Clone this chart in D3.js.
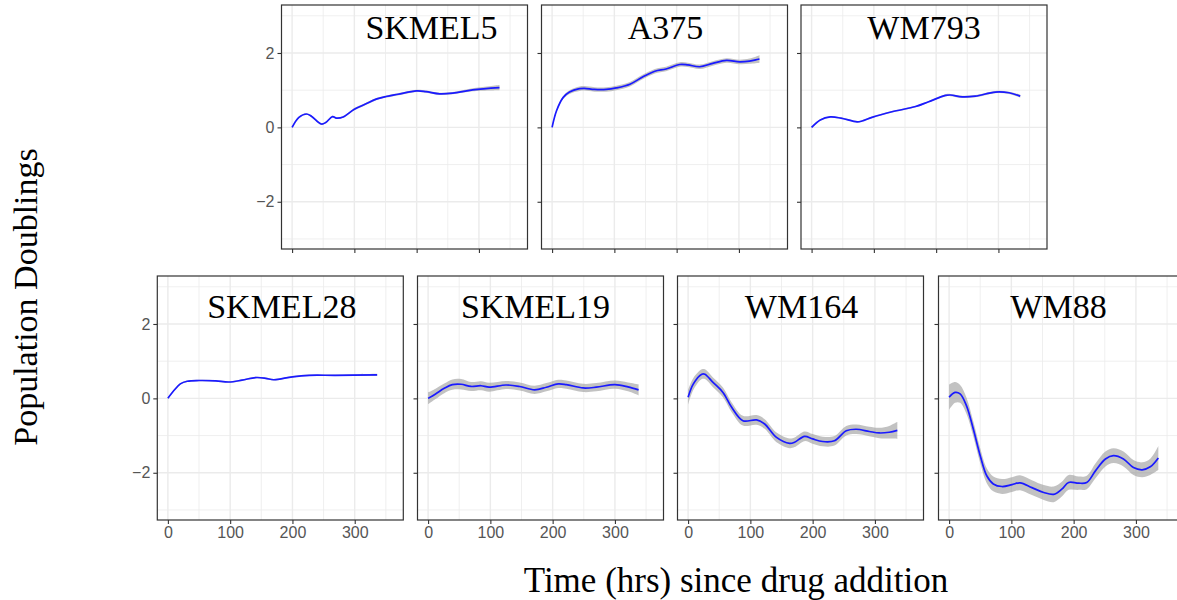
<!DOCTYPE html>
<html>
<head>
<meta charset="utf-8">
<script src="https://cdn.jsdelivr.net/npm/d3@7"></script>
<style>
html,body{margin:0;padding:0;background:#fff;overflow:hidden;}
svg{display:block;}
</style>
</head>
<body>
<svg id="chart" width="1177" height="600"></svg>
<script>
// ---------------- DATA ----------------
const cellLines = ["SKMEL5", "A375", "WM793", "SKMEL28", "SKMEL19", "WM164", "WM88"];
const xTicks = [0, 100, 200, 300];
const yTicks = [-2, 0, 2];
const xMinor = [50, 150, 250, 350];
const yMinor = [-3, -1, 1, 3];

const skmel5Time  = [0, 11, 23, 31, 47, 54, 65, 71, 82, 100, 117, 135, 151, 170, 200, 215, 237, 258, 290, 333];
const skmel5Value = [0, 0.27, 0.36, 0.30, 0.09, 0.13, 0.29, 0.25, 0.28, 0.49, 0.62, 0.76, 0.83, 0.89, 0.98, 0.96, 0.90, 0.92, 1.01, 1.07];
const skmel5Se    = [0.02, 0.02, 0.02, 0.02, 0.02, 0.02, 0.02, 0.02, 0.02, 0.03, 0.03, 0.03, 0.03, 0.03, 0.03, 0.03, 0.03, 0.03, 0.04, 0.07];

const a375Time  = [0, 7, 17.6, 28, 44, 52, 68, 87, 103, 125, 146, 165, 183, 205, 218, 237, 258, 280, 301, 317, 333];
const a375Value = [0, 0.44, 0.80, 0.95, 1.04, 1.05, 1.02, 1.02, 1.06, 1.16, 1.36, 1.51, 1.57, 1.69, 1.68, 1.63, 1.72, 1.80, 1.76, 1.78, 1.84];
const a375Se    = [0.02, 0.03, 0.04, 0.05, 0.06, 0.06, 0.06, 0.06, 0.06, 0.06, 0.06, 0.06, 0.06, 0.06, 0.06, 0.06, 0.06, 0.06, 0.06, 0.07, 0.10];

const wm793Time  = [0, 14, 30, 47, 73, 81, 97, 129, 167, 188, 215, 223, 242, 263, 295, 317, 335];
const wm793Value = [0, 0.20, 0.28, 0.25, 0.15, 0.17, 0.27, 0.42, 0.56, 0.69, 0.86, 0.87, 0.82, 0.84, 0.95, 0.93, 0.84];
const wm793Se    = [0.02, 0.02, 0.02, 0.02, 0.02, 0.02, 0.02, 0.02, 0.02, 0.02, 0.03, 0.03, 0.03, 0.03, 0.03, 0.03, 0.04];

const skmel28Time  = [0, 9.6, 20, 31, 50, 77, 98, 119, 141, 157, 170, 200, 227, 269, 336];
const skmel28Value = [0, 0.21, 0.39, 0.46, 0.48, 0.47, 0.44, 0.49, 0.56, 0.54, 0.50, 0.58, 0.62, 0.62, 0.63];
const skmel28Se    = [0.02, 0.02, 0.02, 0.02, 0.02, 0.02, 0.02, 0.02, 0.02, 0.02, 0.02, 0.02, 0.02, 0.02, 0.03];

const skmel19Time  = [0, 12, 26, 39, 53, 69, 85, 98, 125, 147, 171, 190, 209, 222, 249, 270, 300, 321, 338];
const skmel19Value = [0, 0.12, 0.27, 0.37, 0.38, 0.32, 0.34, 0.30, 0.36, 0.32, 0.23, 0.30, 0.39, 0.37, 0.28, 0.30, 0.37, 0.31, 0.23];
const skmel19Se    = [0.16, 0.14, 0.13, 0.14, 0.14, 0.12, 0.12, 0.12, 0.11, 0.11, 0.11, 0.11, 0.11, 0.11, 0.11, 0.11, 0.11, 0.12, 0.15];

const wm164Time  = [0, 8.5, 22, 27, 40, 56, 70, 88, 110, 123, 142, 163, 171, 187, 200, 216, 235, 254, 270, 291, 307, 323, 336];
const wm164Value = [0.03, 0.39, 0.65, 0.65, 0.43, 0.16, -0.24, -0.60, -0.58, -0.69, -1.05, -1.21, -1.18, -1.02, -1.09, -1.16, -1.14, -0.87, -0.83, -0.89, -0.93, -0.91, -0.86];
const wm164Se    = [0.2, 0.16, 0.13, 0.13, 0.13, 0.13, 0.13, 0.13, 0.13, 0.13, 0.13, 0.13, 0.13, 0.13, 0.13, 0.13, 0.13, 0.13, 0.13, 0.13, 0.14, 0.17, 0.23];

const wm88Time  = [0, 9.6, 17.7, 28, 39, 50, 60.5, 71, 85, 101, 114, 133, 152, 168, 181, 192, 208, 221, 235, 251, 264, 280, 296, 310, 323, 336];
const wm88Value = [0.03, 0.16, 0.12, -0.20, -0.83, -1.54, -2.08, -2.30, -2.37, -2.32, -2.27, -2.40, -2.53, -2.58, -2.44, -2.26, -2.28, -2.26, -1.95, -1.63, -1.54, -1.63, -1.86, -1.92, -1.84, -1.60];
const wm88Se    = [0.34, 0.28, 0.24, 0.22, 0.2, 0.2, 0.2, 0.2, 0.2, 0.2, 0.2, 0.2, 0.2, 0.21, 0.2, 0.2, 0.18, 0.18, 0.2, 0.2, 0.2, 0.2, 0.2, 0.2, 0.22, 0.32];

const seriesTime  = [skmel5Time, a375Time, wm793Time, skmel28Time, skmel19Time, wm164Time, wm88Time];
const seriesValue = [skmel5Value, a375Value, wm793Value, skmel28Value, skmel19Value, wm164Value, wm88Value];
const seriesSe    = [skmel5Se, a375Se, wm793Se, skmel28Se, skmel19Se, wm164Se, wm88Se];

// ---------------- LAYOUT ----------------
const panelW = 246, panelH = 244;
const layout = [
  {left: 281.5, top: 5.0,  yLabels: true,  xLabels: false, titleDx: 27, titleY: 39},
  {left: 541.5, top: 5.0,  yLabels: false, xLabels: false, titleDx: 1,  titleY: 39},
  {left: 801.0, top: 5.0,  yLabels: false, xLabels: false, titleDx: 0,  titleY: 39},
  {left: 157.3, top: 276,  yLabels: true,  xLabels: true,  titleDx: 1.5, titleY: 318},
  {left: 417.5, top: 276,  yLabels: false, xLabels: true,  titleDx: -5, titleY: 318},
  {left: 677.5, top: 276,  yLabels: false, xLabels: true,  titleDx: 1,  titleY: 318},
  {left: 938.5, top: 276,  yLabels: false, xLabels: true,  titleDx: -3, titleY: 318}
];

const svg = d3.select("#chart");
const x = d3.scaleLinear().domain([-17, 378]).range([0, panelW]);
const y = d3.scaleLinear().domain([-3.27, 3.29]).range([panelH, 0]);

const serif = "'Liberation Serif','Times New Roman',Times,serif";
const sans = "'Liberation Sans',Arial,Helvetica,sans-serif";

cellLines.forEach((name, i) => {
  const L = layout[i];
  const g = svg.append("g").attr("transform", `translate(${L.left},${L.top})`);
  const clipId = "clip" + i;
  g.append("clipPath").attr("id", clipId).append("rect")
    .attr("width", panelW).attr("height", panelH);

  g.append("rect").attr("width", panelW).attr("height", panelH).attr("fill", "#fff");

  const grid = g.append("g").attr("clip-path", `url(#${clipId})`);
  grid.selectAll(".vminor").data(xMinor).join("line")
    .attr("x1", d => x(d)).attr("x2", d => x(d)).attr("y1", 0).attr("y2", panelH)
    .attr("stroke", "#ebebeb").attr("stroke-width", 0.8);
  grid.selectAll(".hminor").data(yMinor).join("line")
    .attr("y1", d => y(d)).attr("y2", d => y(d)).attr("x1", 0).attr("x2", panelW)
    .attr("stroke", "#ebebeb").attr("stroke-width", 0.8);
  grid.selectAll(".vmajor").data(xTicks).join("line")
    .attr("x1", d => x(d)).attr("x2", d => x(d)).attr("y1", 0).attr("y2", panelH)
    .attr("stroke", "#ebebeb").attr("stroke-width", 1.4);
  grid.selectAll(".hmajor").data(yTicks).join("line")
    .attr("y1", d => y(d)).attr("y2", d => y(d)).attr("x1", 0).attr("x2", panelW)
    .attr("stroke", "#ebebeb").attr("stroke-width", 1.4);

  const pts = seriesTime[i].map((t, k) => ({t, v: seriesValue[i][k], se: seriesSe[i][k]}));
  const curve = d3.curveCatmullRom.alpha(0.5);
  const plot = g.append("g").attr("clip-path", `url(#${clipId})`);
  plot.append("path").datum(pts)
    .attr("d", d3.area().x(d => x(d.t)).y0(d => y(d.v - d.se)).y1(d => y(d.v + d.se)).curve(curve))
    .attr("fill", "#999999").attr("fill-opacity", 0.6);
  plot.append("path").datum(pts)
    .attr("d", d3.line().x(d => x(d.t)).y(d => y(d.v)).curve(curve))
    .attr("fill", "none").attr("stroke", "#1a1aff").attr("stroke-width", 1.7);

  // title
  g.append("text")
    .attr("x", panelW / 2 + L.titleDx).attr("y", L.titleY - L.top)
    .attr("text-anchor", "middle")
    .attr("font-family", serif).attr("font-size", 34).attr("fill", "#000")
    .text(name);

  // axes
  const xAxis = d3.axisBottom(x).tickValues(xTicks).tickSize(4).tickPadding(3)
    .tickFormat(L.xLabels ? d3.format("d") : () => "");
  const yAxis = d3.axisLeft(y).tickValues(yTicks).tickSize(4).tickPadding(3)
    .tickFormat(L.yLabels ? (d => d < 0 ? "\u2212" + Math.abs(d) : d) : () => "");
  const xa = g.append("g").attr("transform", `translate(0,${panelH})`).call(xAxis);
  const ya = g.append("g").call(yAxis);
  [xa, ya].forEach(a => {
    a.select(".domain").remove();
    a.selectAll(".tick line").attr("stroke", "#333").attr("stroke-width", 1.1);
    a.selectAll(".tick text").attr("fill", "#555").attr("font-family", sans).attr("font-size", 16);
  });

  g.append("rect").attr("width", panelW).attr("height", panelH)
    .attr("fill", "none").attr("stroke", "#333").attr("stroke-width", 1.2);
});

svg.append("text")
  .attr("transform", "translate(37,297) rotate(-90)")
  .attr("text-anchor", "middle")
  .attr("font-family", serif).attr("font-size", 34).attr("fill", "#000")
  .text("Population Doublings");

svg.append("text")
  .attr("x", 736).attr("y", 592)
  .attr("text-anchor", "middle")
  .attr("font-family", serif).attr("font-size", 35).attr("fill", "#000")
  .text("Time (hrs) since drug addition");
</script>
</body>
</html>
